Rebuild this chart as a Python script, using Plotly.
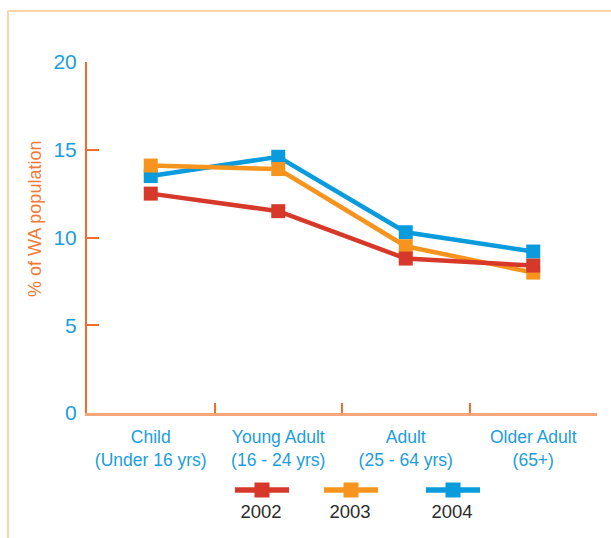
import plotly.graph_objects as go

# Share of the WA population, by age group and year
categories = ["Child<br>(Under 16 yrs)", "Young Adult<br>(16 - 24 yrs)",
              "Adult<br>(25 - 64 yrs)", "Older Adult<br>(65+)"]
years = ["2002", "2003", "2004"]
values_2002 = [12.5, 11.5, 8.8, 8.4]
values_2003 = [14.1, 13.9, 9.5, 8.0]
values_2004 = [13.5, 14.6, 10.3, 9.2]
y_ticks = [0, 5, 10, 15, 20]

series_values = {"2002": values_2002, "2003": values_2003, "2004": values_2004}
colors = {"2002": "#d6392a", "2003": "#f7941d", "2004": "#0a9bdc"}

W, H = 611, 538
BLUE_TXT = "#1b9ddf"
AXIS_ORANGE = "#f26d2b"
AXIS_LIGHT = "#f6a679"
SANS = "Liberation Sans, Arial, sans-serif"

fig = go.Figure()

# draw 2004 first so the earlier years sit on top
for yr in reversed(years):
    fig.add_trace(go.Scatter(
        x=categories, y=series_values[yr], name=yr,
        mode="lines+markers",
        line=dict(color=colors[yr], width=4.5),
        marker=dict(symbol="square", size=14, color=colors[yr]),
        showlegend=False, xaxis="x", yaxis="y",
    ))

# custom legend: line sample with marker, year written underneath
legend_centers = {"2002": 262, "2003": 351, "2004": 453}
legend_line_y, legend_text_y, half_len = 490, 513, 27
for yr in years:
    cx = legend_centers[yr]
    fig.add_trace(go.Scatter(
        x=[cx - half_len, cx + half_len], y=[legend_line_y, legend_line_y],
        mode="lines", line=dict(color=colors[yr], width=5.5),
        showlegend=False, hoverinfo="skip", xaxis="x2", yaxis="y2"))
    fig.add_trace(go.Scatter(
        x=[cx], y=[legend_line_y], mode="markers",
        marker=dict(symbol="square", size=15, color=colors[yr]),
        showlegend=False, hoverinfo="skip", xaxis="x2", yaxis="y2"))
    fig.add_trace(go.Scatter(
        x=[cx - 1], y=[legend_text_y], mode="text", text=[yr],
        textfont=dict(family=SANS, size=18.5, color="#2b2b2b"),
        showlegend=False, hoverinfo="skip", xaxis="x2", yaxis="y2"))

fig.update_layout(
    width=W, height=H, autosize=False,
    margin=dict(l=0, r=0, t=0, b=0),
    paper_bgcolor="white", plot_bgcolor="rgba(0,0,0,0)",
    xaxis=dict(
        domain=[87 / W, 597 / W], type="category", range=[-0.5, 3.5],
        tickson="boundaries", ticks="inside", ticklen=10, tickwidth=1.5,
        tickcolor=AXIS_ORANGE, showline=True, linecolor=AXIS_LIGHT, linewidth=2.5,
        showgrid=False, zeroline=False, tickangle=0, automargin=False,
        tickfont=dict(family=SANS, size=17.5, color=BLUE_TXT),
        ticklabelstandoff=6,
        anchor="y",
    ),
    yaxis=dict(
        domain=[(H - 413) / H, (H - 62) / H], range=[0, 20],
        tickvals=y_ticks, ticks="inside", ticklen=12, tickwidth=1.5,
        tickcolor=AXIS_ORANGE, showline=True, linecolor=AXIS_ORANGE, linewidth=2,
        showgrid=False, zeroline=False, automargin=False,
        tickfont=dict(family=SANS, size=21, color=BLUE_TXT),
        ticklabelstandoff=4,
        anchor="x",
    ),
    xaxis2=dict(domain=[0, 1], range=[0, W], visible=False, anchor="y2"),
    yaxis2=dict(domain=[0, 1], range=[H, 0], visible=False, anchor="x2"),
    annotations=[dict(
        text="% of WA population", textangle=-90,
        x=35, y=219, xref="x2", yref="y2", showarrow=False,
        font=dict(family=SANS, size=18, color="#f07a36"),
    )],
    shapes=[
        dict(type="line", xref="x2", yref="y2", x0=8, y0=11, x1=W, y1=11,
             line=dict(color="#fcd3a6", width=2)),
        dict(type="line", xref="x2", yref="y2", x0=8, y0=11, x1=8, y1=H,
             line=dict(color="#fcd3a6", width=2)),
    ],
)

fig.write_html("out.html")
